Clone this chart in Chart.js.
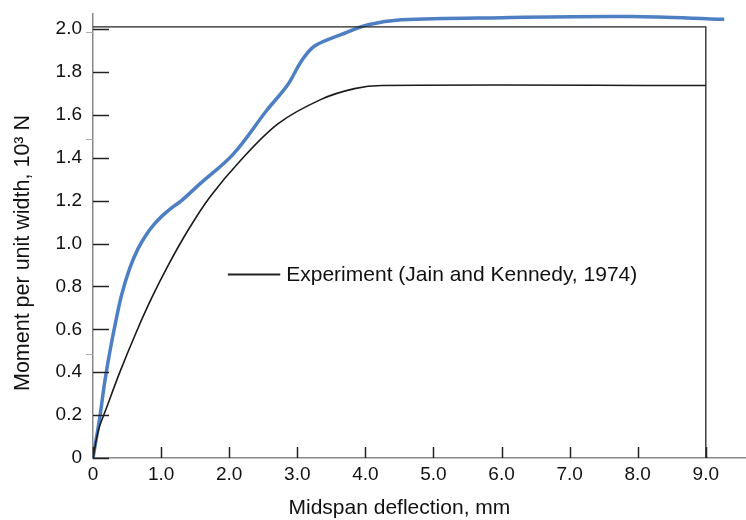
<!DOCTYPE html>
<html>
<head>
<meta charset="utf-8">
<script src="https://cdn.jsdelivr.net/npm/chart.js@4/dist/chart.umd.min.js"></script>
<style>
  html, body { margin: 0; padding: 0; background: #fff; }
  #wrap { width: 746px; height: 520px; }
</style>
</head>
<body>
<div id="wrap"><canvas id="chart" width="746" height="520"></canvas></div>
<script>
// blue curve (unlabelled)
const blueX = [0, 0.1, 0.17, 0.25, 0.33, 0.42, 0.54, 0.66, 0.78, 0.9, 1.02, 1.15, 1.3, 1.57, 2.06, 2.55, 2.86, 3.06, 3.25, 3.65, 4.04, 4.53, 6.0, 7.9, 9.27];
const blueY = [0, 0.19, 0.35, 0.5, 0.63, 0.76, 0.885, 0.975, 1.04, 1.09, 1.13, 1.165, 1.2, 1.278, 1.417, 1.62, 1.74, 1.85, 1.92, 1.975, 2.02, 2.043, 2.053, 2.058, 2.045];

// black curve: Experiment (Jain and Kennedy, 1974)
const expX = [0, 0.08, 0.2, 0.4, 0.64, 0.86, 1.1, 1.4, 1.72, 2.16, 2.72, 3.35, 3.84, 4.24, 9.0];
const expY = [0, 0.13, 0.235, 0.405, 0.59, 0.745, 0.896, 1.064, 1.218, 1.385, 1.559, 1.672, 1.722, 1.737, 1.737];

// limit frame
const limitX = [0, 9.0, 9.0];
const limitY = [2.01, 2.01, 0];

const xTicks = [0, 1, 2, 3, 4, 5, 6, 7, 8, 9];
const xTickLabels = ["0", "1.0", "2.0", "3.0", "4.0", "5.0", "6.0", "7.0", "8.0", "9.0"];
const yTicks = [0, 0.2, 0.4, 0.6, 0.8, 1.0, 1.2, 1.4, 1.6, 1.8, 2.0];
const yTickLabels = ["0", "0.2", "0.4", "0.6", "0.8", "1.0", "1.2", "1.4", "1.6", "1.8", "2.0"];
const yStubs = [0.5, 1.5, 2.0];

const legendLabel = "Experiment (Jain and Kennedy, 1974)";
const xTitle = "Midspan deflection, mm";
const yTitle = "Moment per unit width, 10\u00B3 N";

const FONT = '"Liberation Sans", Arial, Helvetica, sans-serif';

const pts = (xs, ys) => xs.map((x, i) => ({ x: x, y: ys[i] }));

const decor = {
  id: "decor",
  afterDraw(chart) {
    const ctx = chart.ctx;
    const xs = chart.scales.x, ys = chart.scales.y;
    const area = chart.chartArea;
    ctx.save();
    // inward ticks
    ctx.strokeStyle = "#222";
    ctx.lineWidth = 1.5;
    yTicks.forEach(v => {
      const py = Math.round(ys.getPixelForValue(v)) + 0.5;
      ctx.beginPath();
      ctx.moveTo(area.left, py);
      ctx.lineTo(area.left + 16, py);
      ctx.stroke();
    });
    xTicks.forEach(v => {
      const px = Math.round(xs.getPixelForValue(v)) + 0.5;
      ctx.beginPath();
      ctx.moveTo(px, area.bottom);
      ctx.lineTo(px, area.bottom - 11);
      ctx.stroke();
    });
    // small grey stubs left of the axis
    ctx.strokeStyle = "#aaa";
    ctx.lineWidth = 1;
    yStubs.forEach(v => {
      const py = Math.round(ys.getPixelForValue(v) + 3) + 0.5;
      ctx.beginPath();
      ctx.moveTo(area.left - 7, py);
      ctx.lineTo(area.left, py);
      ctx.stroke();
    });
    // legend
    const ly = ys.getPixelForValue(0.855);
    const lx0 = xs.getPixelForValue(1.98);
    const lx1 = xs.getPixelForValue(2.75);
    ctx.strokeStyle = "#222";
    ctx.lineWidth = 2;
    ctx.beginPath();
    ctx.moveTo(lx0, ly);
    ctx.lineTo(lx1, ly);
    ctx.stroke();
    ctx.fillStyle = "#111";
    ctx.font = "21px " + FONT;
    ctx.textAlign = "left";
    ctx.textBaseline = "middle";
    ctx.fillText(legendLabel, lx1 + 6, ly + 1);
    // axis titles
    ctx.textAlign = "center";
    ctx.fillText(xTitle, xs.getPixelForValue(4.5), 508);
    ctx.font = "21.5px " + FONT;
    ctx.translate(23, 253);
    ctx.rotate(-Math.PI / 2);
    ctx.fillText(yTitle, 0, 0);
    ctx.restore();
  }
};

new Chart(document.getElementById("chart"), {
  type: "line",
  data: {
    datasets: [
      {
        data: pts(limitX, limitY),
        borderColor: "#222",
        borderWidth: 1.3,
        pointRadius: 0,
        tension: 0
      },
      {
        data: pts(expX, expY),
        borderColor: "#1a1a1a",
        borderWidth: 1.6,
        pointRadius: 0,
        tension: 0.35
      },
      {
        data: pts(blueX, blueY),
        borderColor: "#4d7fc2",
        borderWidth: 3.5,
        pointRadius: 0,
        tension: 0.35
      }
    ]
  },
  options: {
    responsive: false,
    animation: false,
    layout: { padding: { top: 14, right: 0, left: 0, bottom: 0 } },
    plugins: { legend: { display: false }, tooltip: { enabled: false } },
    scales: {
      x: {
        type: "linear",
        min: 0,
        max: 9.59,
        afterBuildTicks: s => { s.ticks = xTicks.map(v => ({ value: v })); },
        afterFit: s => { s.height = 62; s.paddingLeft = 0; s.paddingRight = 0; },
        grid: { display: false, drawTicks: false },
        border: { display: true, color: "#888", width: 1.5 },
        ticks: {
          padding: 5,
          color: "#111",
          font: { family: FONT, size: 19 },
          maxRotation: 0,
          callback: v => xTickLabels[xTicks.indexOf(v)]
        }
      },
      y: {
        type: "linear",
        min: 0,
        max: 2.07,
        afterBuildTicks: s => { s.ticks = yTicks.map(v => ({ value: v })); },
        afterFit: s => { s.width = 93; s.paddingTop = 0; s.paddingBottom = 0; },
        grid: { display: false, drawTicks: false },
        border: { display: true, color: "#888", width: 1.5 },
        ticks: {
          padding: 11,
          color: "#111",
          font: { family: FONT, size: 19 },
          callback: v => yTickLabels[yTicks.findIndex(t => Math.abs(t - v) < 1e-6)]
        }
      }
    }
  },
  plugins: [decor]
});
</script>
</body>
</html>
